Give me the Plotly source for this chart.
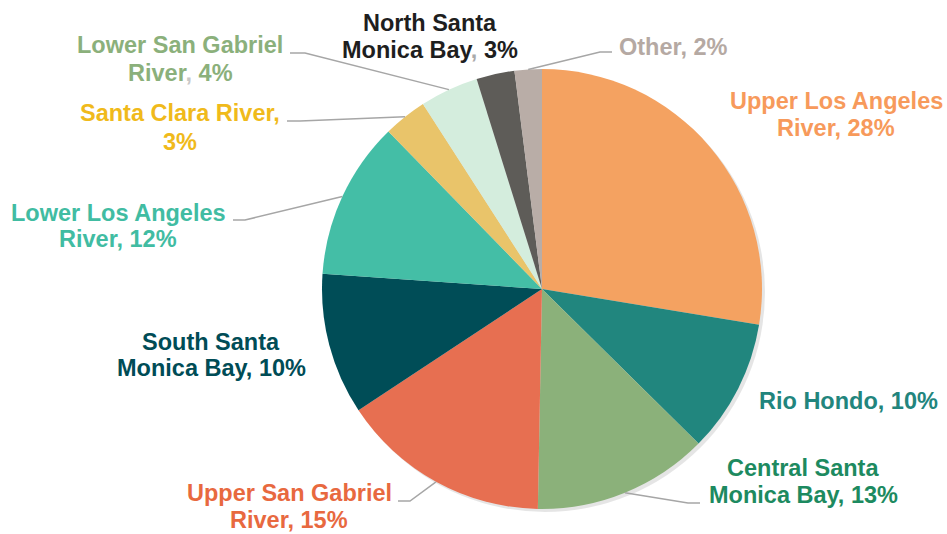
import math
import plotly.graph_objects as go

W, H = 947, 534

# data (share of total; labels show the rounded value)
regions = ["Upper Los Angeles River", "Rio Hondo", "Central Santa Monica Bay",
           "Upper San Gabriel River", "South Santa Monica Bay", "Lower Los Angeles River",
           "Santa Clara River", "Lower San Gabriel River", "North Santa Monica Bay", "Other"]
shares = [27.6, 9.8, 12.9, 15.4, 10.4, 11.6, 3.2, 4.3, 2.8, 2.0]
slice_colors = ["#F4A261", "#21867E", "#8BB17A", "#E76F51", "#004D57",
                "#44BEA6", "#E9C46A", "#D4EDDD", "#5E5C58", "#B9ADA7"]
label_colors = ["#F79A5B", "#22857D", "#1D8A60", "#E8693F", "#004C56",
                "#41BCA2", "#F0BA1B", "#8BB07B", "#1E1E1E", "#B5A9A3"]

# label text lines, "{p}" is replaced by the rounded percent
label_lines = [
    ["Upper Los Angeles", "River, {p}"],
    ["Rio Hondo, {p}"],
    ["Central Santa", "Monica Bay, {p}"],
    ["Upper San Gabriel", "River, {p}"],
    ["South Santa", "Monica Bay, {p}"],
    ["Lower Los Angeles", "River, {p}"],
    ["Santa Clara River,", "{p}"],
    ["Lower San Gabriel", "River<span style='color:#C8C8C8'>,</span> {p}"],
    ["North Santa", "Monica Bay<span style='color:#AAAAAA'>,</span> {p}"],
    ["Other, {p}"],
]

# layout: pie centre / radius and label placement in pixels
CX, CY, R = 542, 289, 220
label_xy = [(836, [101, 128]), (848, [401]), (803, [468, 495]), (289, [493, 520]),
            (211, [342, 368]), (118, [213, 239]), (180, [113, 142]), (180, [45, 73]),
            (430, [23, 50]), (673, [47])]
# leader line start and elbow (None = no leader)
leaders = [None, None, ((700, 503), (688, 503)), ((398, 501), (410, 501)), None,
           ((233, 220), (245, 220)), ((287, 121), (300, 121)), ((290, 53), (305, 53)),
           None, ((612, 52), (600, 52))]


def px(x):
    return x / W


def py(y):
    return 1 - y / H


fig = go.Figure()

# soft shadow under the pie
fig.add_trace(go.Pie(
    values=[1], marker=dict(colors=["rgba(0,0,0,0.10)"], line=dict(width=0)),
    domain=dict(x=[px(CX - R + 3), px(CX + R + 3)], y=[py(CY + R + 3), py(CY - R + 3)]),
    textinfo="none", hoverinfo="skip", sort=False,
))

fig.add_trace(go.Pie(
    labels=regions, values=shares, sort=False, direction="clockwise", rotation=0,
    marker=dict(colors=slice_colors, line=dict(width=0)),
    domain=dict(x=[px(CX - R), px(CX + R)], y=[py(CY + R), py(CY - R)]),
    textinfo="none", hoverinfo="label+percent",
))

total = sum(shares)
cum = 0
annotations = []
shapes = []
for i, v in enumerate(shares):
    mid = 2 * math.pi * (cum + v / 2) / total
    cum += v
    pct = f"{round(v / total * 100)}%"
    x, ys = label_xy[i]
    for line, y in zip(label_lines[i], ys):
        annotations.append(dict(
            text=line.replace("{p}", pct), x=px(x), y=py(y), xref="paper", yref="paper",
            xanchor="center", yanchor="middle", showarrow=False,
            font=dict(family="Liberation Sans, Arial", size=23.5, color=label_colors[i],
                      weight="bold"),
        ))
    if leaders[i]:
        (x0, y0), (x1, y1) = leaders[i]
        ex, ey = CX + R * math.sin(mid), CY - R * math.cos(mid)
        path = (f"M {px(x0)},{py(y0)} L {px(x1)},{py(y1)} L {px(ex)},{py(ey)}")
        shapes.append(dict(type="path", path=path, xref="paper", yref="paper",
                           line=dict(color="#A6A6A6", width=1.5)))

fig.update_layout(
    width=W, height=H, margin=dict(l=0, r=0, t=0, b=0),
    paper_bgcolor="white", plot_bgcolor="white", showlegend=False,
    annotations=annotations, shapes=shapes,
)

fig.write_html("out.html", config={"displayModeBar": False},
               post_script="document.body.style.margin='0';document.body.style.overflow='hidden';")
